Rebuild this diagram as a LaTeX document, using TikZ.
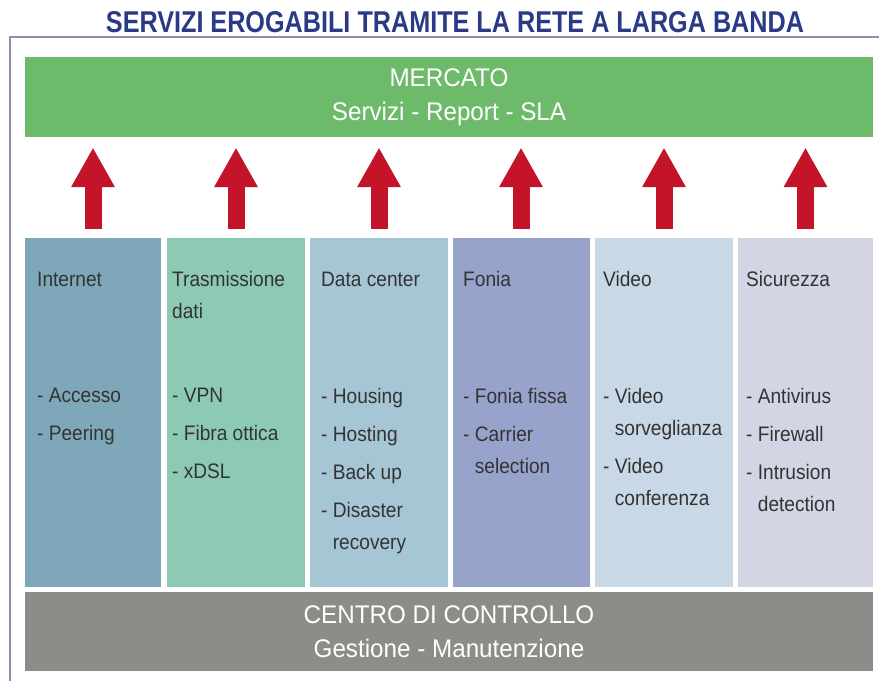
\documentclass[tikz,border=0pt]{standalone}
\usepackage{fontspec}
\usepackage{graphicx}
\setmainfont{Liberation Sans}
\newfontfamily\coltxt[FakeStretch=0.91]{Liberation Sans}
\newfontfamily\bartxt[FakeStretch=0.95]{Liberation Sans}
\usetikzlibrary{arrows.meta}
\definecolor{navy}{HTML}{2B3A84}
\definecolor{framec}{HTML}{8A90B0}
\definecolor{mktgreen}{HTML}{6DBA6A}
\definecolor{arrowred}{HTML}{C4142A}
\definecolor{colA}{HTML}{7EA8B9}
\definecolor{colB}{HTML}{8CCAB6}
\definecolor{colC}{HTML}{A6C6D6}
\definecolor{colD}{HTML}{98A3CC}
\definecolor{colE}{HTML}{C8D8E6}
\definecolor{colF}{HTML}{D3D5E5}
\definecolor{ctrlgray}{HTML}{8E8C88}
\definecolor{coltext}{HTML}{333333}
\begin{document}
\begin{tikzpicture}[x=1pt,y=-1pt,
  bar/.style={draw=none, inner sep=0pt, align=center, text=white,
    font=\bartxt\fontsize{25.5}{34}\selectfont},
  colbox/.style={draw=none, inner sep=0pt, minimum height=349pt},
  coltitle/.style={anchor=north west, inner sep=0pt, align=left, text=coltext,
    font=\coltxt\fontsize{21}{32}\selectfont},
  colitems/.style={anchor=north west, inner sep=0pt, align=left, text=coltext,
    font=\coltxt\fontsize{21}{32}\selectfont},
  bigarrow/.style={draw=arrowred, line width=17pt,
    -{Triangle[width=44pt,length=39pt,line width=0pt]}}
]
\useasboundingbox (0,0) rectangle (879,681);
\fill[white] (0,0) rectangle (879,681);
% frame
\draw[framec, line width=2pt] (10,681) -- (10,37) -- (879,37);
% title
\node[inner sep=0pt, text=navy] (title) at (455,22.5)
  {\resizebox{698pt}{21pt}{\bfseries SERVIZI EROGABILI TRAMITE LA RETE A LARGA BANDA}};
% market bar
\node[bar, fill=mktgreen, minimum width=848pt, minimum height=80pt] (mkt) at (449,97)
  {MERCATO\\Servizi - Report - SLA};
% control bar
\node[bar, fill=ctrlgray, minimum width=848pt, minimum height=79pt] (ctrl) at (449,631.5)
  {CENTRO DI CONTROLLO\\Gestione - Manutenzione};
% columns
\node[colbox, fill=colA, minimum width=136pt] (c1) at (93,412) {};
\node[colbox, fill=colB, minimum width=138pt] (c2) at (236,412) {};
\node[colbox, fill=colC, minimum width=138pt] (c3) at (379,412) {};
\node[colbox, fill=colD, minimum width=137pt] (c4) at (521,412) {};
\node[colbox, fill=colE, minimum width=138pt] (c5) at (664,412) {};
\node[colbox, fill=colF, minimum width=135pt] (c6) at (805.5,412) {};
% arrows
\foreach \c in {c1,c2,c3,c4,c5,c6}
  \draw[bigarrow] ([yshift=8pt]\c.north) -- ([yshift=-11pt]\c.north |- mkt.south);
% column texts
\node[coltitle] (t1) at (37,271.5) {Internet};
\node[colitems] (i1) at (37,388) {- Accesso\\[6pt]- Peering};
\node[coltitle] (t2) at (172,271.5) {Trasmissione\\dati};
\node[colitems] (i2) at (172,388) {- VPN\\[6pt]- Fibra ottica\\[6pt]- xDSL};
\node[coltitle] (t3) at (321,271.5) {Data center};
\node[colitems] (i3) at (321,388) {- Housing\\[6pt]- Hosting\\[6pt]- Back up\\[6pt]- Disaster\\\hphantom{- }recovery};
\node[coltitle] (t4) at (463,271.5) {Fonia};
\node[colitems] (i4) at (463,388) {- Fonia fissa\\[6pt]- Carrier\\\hphantom{- }selection};
\node[coltitle] (t5) at (603,271.5) {Video};
\node[colitems] (i5) at (603,388) {- Video\\\hphantom{- }sorveglianza\\[6pt]- Video\\\hphantom{- }conferenza};
\node[coltitle] (t6) at (746,271.5) {Sicurezza};
\node[colitems] (i6) at (746,388) {- Antivirus\\[6pt]- Firewall\\[6pt]- Intrusion\\\hphantom{- }detection};
\end{tikzpicture}
\end{document}
